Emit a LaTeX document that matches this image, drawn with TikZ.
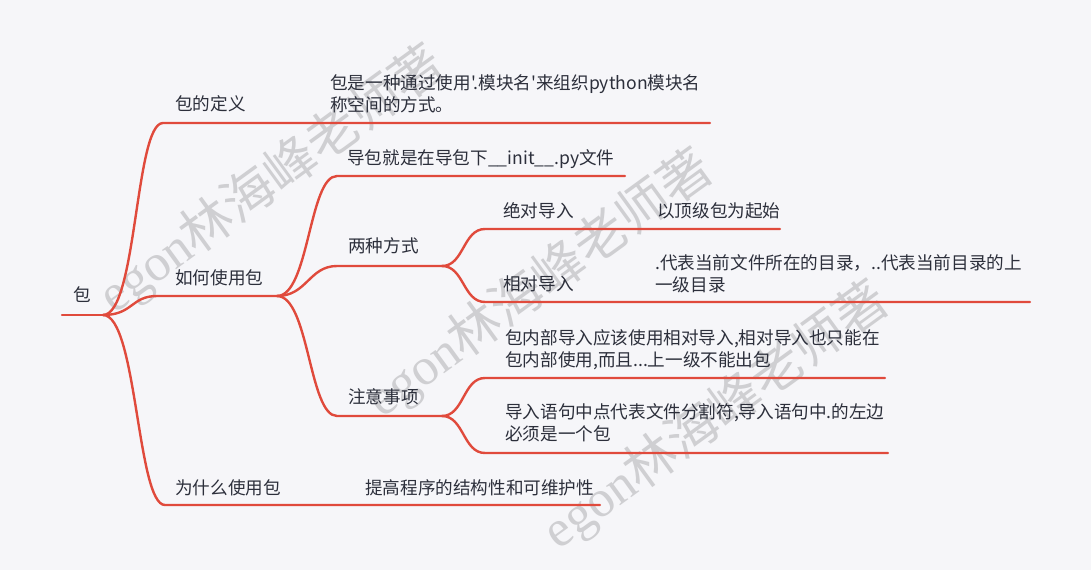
\documentclass[tikz,border=0pt]{standalone}
\usepackage{fontspec}
\newfontfamily\cjk{Noto Sans CJK SC}
\newfontfamily\wmlatin{Liberation Serif}
\usetikzlibrary{positioning}
\definecolor{MapBack}{HTML}{F6F6F9}
\definecolor{MapRed}{HTML}{E04A3C}
\definecolor{MapInk}{HTML}{2C2F3B}
\definecolor{MapMark}{HTML}{CFCFD2}
\tikzset{
  topic/.style={anchor=base west,inner sep=0pt,text=MapInk,align=left,
    font=\cjk\fontsize{17.6}{22}\selectfont},
  branch/.style={draw=MapRed,line width=2.4pt,line cap=round},
  wmtext/.style={text=MapMark,inner sep=0pt,rotate=36,
    font=\fontsize{52}{52}\selectfont},
}

\begin{document}
\begin{tikzpicture}[x=1pt,y=-1pt]
  \fill[MapBack] (0,0) rectangle (1091,570);
  \useasboundingbox (0,0) rectangle (1091,570);
  % watermark
  \node[wmtext] (wm1) at (272,180) {{\wmlatin egon}{\cjk 林海峰老师著}};
  \node[wmtext] (wm2) at (540,284) {{\wmlatin egon}{\cjk 林海峰老师著}};
  \node[wmtext] (wm3) at (716,416) {{\wmlatin egon}{\cjk 林海峰老师著}};
  % topics
  \node[topic] (root) at (73,301) {包};
  \node[topic] (def) at (175,110) {包的定义};
  \node[topic] (defText) at (330,111) {包是一种通过使用'.模块名'来组织python模块名\\称空间的方式。};
  \node[topic] (how) at (175,284) {如何使用包};
  \node[topic] (why) at (175,494) {为什么使用包};
  \node[topic] (whyText) at (365,494) {提高程序的结构性和可维护性};
  \node[topic] (init) at (347,164) {导包就是在导包下\_\_init\_\_.py文件};
  \node[topic] (two) at (348,252) {两种方式};
  \node[topic] (note) at (348,403) {注意事项};
  \node[topic] (abs) at (503,217) {绝对导入};
  \node[topic] (absText) at (657,217) {以顶级包为起始};
  \node[topic] (rel) at (503,290) {相对导入};
  \node[topic] (relText) at (655,291) {.代表当前文件所在的目录，..代表当前目录的上\\一级目录};
  \node[topic] (noteA) at (505,366) {包内部导入应该使用相对导入,相对导入也只能在\\包内部使用,而且...上一级不能出包};
  \node[topic] (noteB) at (505,440) {导入语句中点代表文件分割符,导入语句中.的左边\\必须是一个包};
  % line ends
  \coordinate (root-s) at (62,315);   \coordinate (root-e) at (103,315);
  \coordinate (def-s) at (163,123);   \coordinate (def-e) at (710,123);
  \coordinate (how-s) at (157,296);   \coordinate (how-e) at (277,296);
  \coordinate (why-s) at (165,505);   \coordinate (why-e) at (600,505);
  \coordinate (init-s) at (337,176);  \coordinate (init-e) at (625,176);
  \coordinate (two-s) at (337,266);   \coordinate (two-e) at (442,266);
  \coordinate (note-s) at (337,416);  \coordinate (note-e) at (442,416);
  \coordinate (abs-s) at (485,229);   \coordinate (abs-e) at (780,229);
  \coordinate (rel-s) at (485,302);   \coordinate (rel-e) at (1030,302);
  \coordinate (noteA-s) at (485,378); \coordinate (noteA-e) at (885,378);
  \coordinate (noteB-s) at (485,453); \coordinate (noteB-e) at (888,453);
  % connectors
  \draw[branch] (root-s) -- (root-e);
  \draw[branch] (root-e) .. controls +(34,0) and +(-28,0) .. (def-s) -- (def-e);
  \draw[branch] (root-e) .. controls +(30,0) and +(-26,0) .. (how-s) -- (how-e);
  \draw[branch] (root-e) .. controls +(34,0) and +(-28,0) .. (why-s) -- (why-e);
  \draw[branch] (how-e) .. controls +(32,0) and +(-28,0) .. (init-s) -- (init-e);
  \draw[branch] (how-e) .. controls +(30,0) and +(-28,0) .. (two-s) -- (two-e);
  \draw[branch] (how-e) .. controls +(32,0) and +(-28,0) .. (note-s) -- (note-e);
  \draw[branch] (two-e) .. controls +(22,0) and +(-22,0) .. (abs-s) -- (abs-e);
  \draw[branch] (two-e) .. controls +(22,0) and +(-22,0) .. (rel-s) -- (rel-e);
  \draw[branch] (note-e) .. controls +(22,0) and +(-22,0) .. (noteA-s) -- (noteA-e);
  \draw[branch] (note-e) .. controls +(22,0) and +(-22,0) .. (noteB-s) -- (noteB-e);
\end{tikzpicture}
\end{document}
